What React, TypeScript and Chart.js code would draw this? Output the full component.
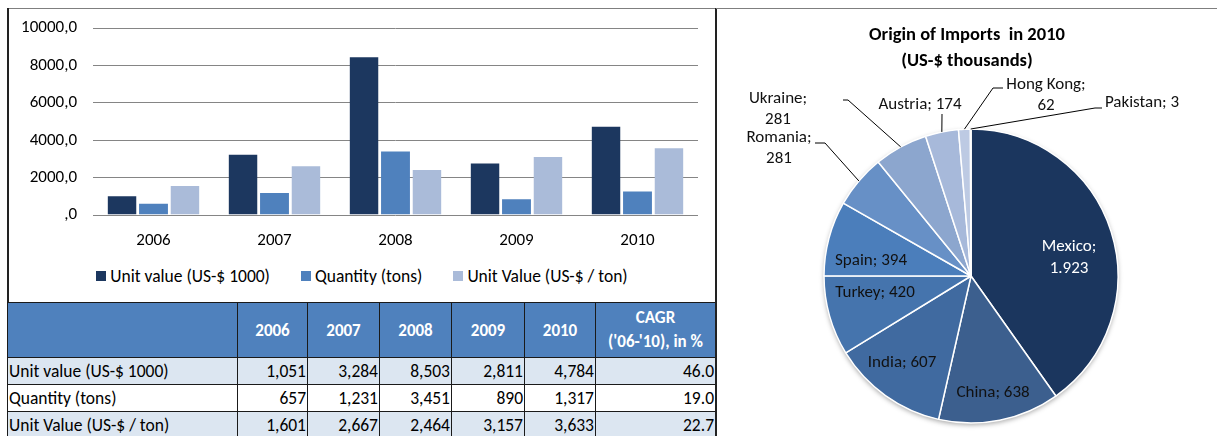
import React, { useEffect, useRef } from 'react';
import { Chart, registerables } from 'chart.js';

Chart.register(...registerables);

// ---------- Data ----------
const years = ['2006', '2007', '2008', '2009', '2010'];
const unitValue = [1051, 3284, 8503, 2811, 4784];
const quantity = [657, 1231, 3451, 890, 1317];
const unitValuePerTon = [1601, 2667, 2464, 3157, 3633];
const cagr = ['46.0', '19.0', '22.7'];
const seriesNames = ['Unit value (US-$ 1000)', 'Quantity (tons)', 'Unit Value (US-$ / ton)'];
const yTickValues = [0, 2000, 4000, 6000, 8000, 10000];
const cagrHeader = ['CAGR', "('06-'10), in %"];

const countries = ['Mexico', 'China', 'India', 'Turkey', 'Spain', 'Romania', 'Ukraine', 'Austria', 'Hong Kong', 'Pakistan'];
const imports2010 = [1923, 638, 607, 420, 394, 281, 281, 174, 62, 3];
const pieTitle = ['Origin of Imports  in 2010', '(US-$ thousands)'];

// ---------- Styles ----------
const FONT = 'Carlito, Lato, "Noto Sans", sans-serif';
const barColors = ['#1C375F', '#4F81BD', '#AABBD9'];
const pieColors = ['#1B365E', '#3C5F8E', '#406AA0', '#4574AD', '#4B7EBB', '#6790C6', '#8CA6CE', '#A7B9DA', '#BDCAE3', '#D6DEEE'];

const fmtDot = (v: number) => (v >= 1000 ? Math.floor(v / 1000) + '.' + String(v % 1000).padStart(3, '0') : String(v));
const fmtComma = (v: number) => (v >= 1000 ? Math.floor(v / 1000) + ',' + String(v % 1000).padStart(3, '0') : String(v));

// label placement for the pie (relative to pie centre, in units of radius)
const insideLabelPos: Record<number, { dx: number; dy: number; color: string; split: boolean }> = {
  0: { dx: 0.667, dy: -0.2, color: '#ffffff', split: true },
  1: { dx: 0.15, dy: 0.796, color: '#111111', split: false },
  2: { dx: -0.469, dy: 0.592, color: '#111111', split: false },
  3: { dx: -0.653, dy: 0.116, color: '#111111', split: false },
  4: { dx: -0.68, dy: -0.102, color: '#111111', split: false },
};
// outside labels: leader path points and text anchor, offsets in px from centre
const outsideLabelPos: Record<number, { path: [number, number][]; tx: number; ty: number; split: boolean }> = {
  5: { path: [[-146, -133], [-156, -133]], tx: -192, ty: -138, split: true },
  6: { path: [[-123, -176], [-128, -176]], tx: -193, ty: -177, split: true },
  7: { path: [[-29, -162]], tx: -51, ty: -171, split: false },
  8: { path: [[22, -188], [32, -188]], tx: 75, ty: -191, split: true },
  9: { path: [[124, -168], [131, -168]], tx: 171, ty: -173, split: false },
};

const pieShadowPlugin = {
  id: 'pieShadow',
  beforeDatasetsDraw(chart: any) {
    const arc = chart.getDatasetMeta(0).data[0];
    if (!arc) return;
    const { x, y, outerRadius } = arc.getProps(['x', 'y', 'outerRadius'], true);
    const ctx = chart.ctx;
    ctx.save();
    ctx.shadowColor = 'rgba(0,0,0,0.35)';
    ctx.shadowBlur = 5;
    ctx.shadowOffsetY = 2;
    ctx.fillStyle = '#ffffff';
    ctx.beginPath();
    ctx.arc(x, y, outerRadius, 0, Math.PI * 2);
    ctx.fill();
    ctx.restore();
  },
};

const pieLabelPlugin = {
  id: 'pieLabels',
  afterDatasetsDraw(chart: any) {
    const ctx = chart.ctx;
    const meta = chart.getDatasetMeta(0);
    const lineH = 21;
    ctx.save();
    ctx.font = `17px ${FONT}`;
    ctx.textAlign = 'center';
    ctx.textBaseline = 'middle';
    meta.data.forEach((arc: any, i: number) => {
      const { x, y, startAngle, endAngle, outerRadius } = arc.getProps(['x', 'y', 'startAngle', 'endAngle', 'outerRadius'], true);
      const value = imports2010[i];
      const name = countries[i];
      const inside = insideLabelPos[i];
      if (inside) {
        ctx.fillStyle = inside.color;
        const lx = x + inside.dx * outerRadius;
        const ly = y + inside.dy * outerRadius;
        if (inside.split) {
          ctx.fillText(name + ';', lx, ly);
          ctx.fillText(fmtDot(value), lx, ly + 22);
        } else {
          ctx.fillText(`${name}; ${fmtDot(value)}`, lx, ly);
        }
        return;
      }
      const out = outsideLabelPos[i];
      if (!out) return;
      const mid = (startAngle + endAngle) / 2;
      const ex = x + Math.cos(mid) * outerRadius;
      const ey = y + Math.sin(mid) * outerRadius;
      ctx.strokeStyle = '#000000';
      ctx.lineWidth = 1;
      ctx.beginPath();
      ctx.moveTo(ex, ey);
      out.path.forEach(([px, py]) => ctx.lineTo(x + px, y + py));
      ctx.stroke();
      ctx.fillStyle = '#111111';
      const tx = x + out.tx;
      const ty = y + out.ty;
      if (out.split) {
        ctx.fillText(name + ';', tx, ty);
        ctx.fillText(fmtDot(value), tx, ty + lineH);
      } else {
        ctx.fillText(`${name}; ${fmtDot(value)}`, tx, ty);
      }
    });
    ctx.restore();
  },
};

export default function App() {
  const barRef = useRef<HTMLCanvasElement>(null);
  const pieRef = useRef<HTMLCanvasElement>(null);

  useEffect(() => {
    const barChart = new Chart(barRef.current as HTMLCanvasElement, {
      type: 'bar',
      data: {
        labels: years,
        datasets: [unitValue, quantity, unitValuePerTon].map((d, i) => ({
          label: seriesNames[i],
          data: d,
          backgroundColor: barColors[i],
          borderColor: 'rgba(255,255,255,0.55)',
          borderWidth: { top: 1, left: 0, right: 0, bottom: 0 },
          categoryPercentage: 0.78,
          barPercentage: 0.92,
        })),
      },
      options: {
        animation: false,
        responsive: false,
        maintainAspectRatio: false,
        layout: { padding: { top: 12, right: 17, left: 0, bottom: 0 } },
        plugins: { legend: { display: false }, tooltip: { enabled: false } },
        scales: {
          x: {
            grid: { display: false },
            border: { display: false },
            ticks: { color: '#000', font: { family: FONT, size: 17 }, padding: 8 },
            afterFit: (s: any) => { s.height = 44; },
          },
          y: {
            min: 0,
            max: 10000,
            afterBuildTicks: (s: any) => { s.ticks = yTickValues.map((v) => ({ value: v })); },
            grid: { color: '#858585', drawTicks: false, lineWidth: 1 },
            border: { display: false },
            ticks: {
              padding: 16,
              color: '#000',
              font: { family: FONT, size: 17 },
              callback: (v: any) => (Number(v) === 0 ? ',0' : v + ',0'),
            },
            afterFit: (s: any) => { s.width = 84; },
          },
        },
      } as any,
    });

    const pieChart = new Chart(pieRef.current as HTMLCanvasElement, {
      type: 'pie',
      data: {
        labels: countries,
        datasets: [{
          data: imports2010,
          backgroundColor: pieColors,
          borderColor: '#ffffff',
          borderWidth: 1.5,
          radius: 147,
          hoverOffset: 0,
        } as any],
      },
      options: {
        animation: false,
        responsive: false,
        maintainAspectRatio: false,
        layout: { padding: { left: 20, right: 12, top: 120, bottom: 13 } },
        plugins: { legend: { display: false }, tooltip: { enabled: false } },
      } as any,
      plugins: [pieShadowPlugin, pieLabelPlugin],
    });

    return () => {
      barChart.destroy();
      pieChart.destroy();
    };
  }, []);

  const rows = [
    { name: seriesNames[0], vals: unitValue, cagr: cagr[0], bg: '#DCE6F1' },
    { name: seriesNames[1], vals: quantity, cagr: cagr[1], bg: '#FFFFFF' },
    { name: seriesNames[2], vals: unitValuePerTon, cagr: cagr[2], bg: '#DCE6F1' },
  ];
  const colW = [230, 70, 72, 72, 73, 71, 120];
  const cellBorder = '1px solid #1a1a1a';

  return (
    <div style={{ position: 'absolute', left: 0, top: 0, width: 1217, height: 436, overflow: 'hidden', background: '#fff', fontFamily: FONT }}>
      {/* bar chart box */}
      <div style={{ position: 'absolute', left: 8, top: 8, width: 708, height: 1, background: '#7f7f7f' }} />
      <div style={{ position: 'absolute', left: 7, top: 8, width: 1.5, height: 296, background: '#222' }} />
      <canvas ref={barRef} width={706} height={257} style={{ position: 'absolute', left: 9, top: 2, width: 706, height: 257 }} />
      {/* bar legend */}
      <div style={{ position: 'absolute', left: 9, top: 266, width: 706, height: 20, display: 'flex', justifyContent: 'center', alignItems: 'center', fontSize: 17.5, color: '#000', whiteSpace: 'nowrap' }}>
        {seriesNames.map((n, i) => (
          <div key={n} style={{ display: 'flex', alignItems: 'center', marginLeft: i === 0 ? 0 : 31 }}>
            <span style={{ display: 'inline-block', width: 10, height: 10, background: barColors[i], marginRight: 4 }} />
            <span>{n}</span>
          </div>
        ))}
      </div>

      {/* table */}
      <table style={{ position: 'absolute', left: 7, top: 302, width: 709, borderCollapse: 'collapse', tableLayout: 'fixed', fontSize: 17.5, color: '#000' }}>
        <colgroup>
          {colW.map((w, i) => <col key={i} style={{ width: w }} />)}
        </colgroup>
        <thead>
          <tr style={{ height: 55 }}>
            <th style={{ background: '#4F81BD', border: cellBorder }} />
            {years.map((y) => (
              <th key={y} style={{ background: '#4F81BD', color: '#fff', border: cellBorder, fontWeight: 'bold', fontSize: 17, textAlign: 'center', padding: 0 }}>{y}</th>
            ))}
            <th style={{ background: '#4F81BD', color: '#fff', border: cellBorder, fontWeight: 'bold', fontSize: 17, textAlign: 'center', padding: 0, lineHeight: '24px', whiteSpace: 'nowrap' }}>
              {cagrHeader[0]}<br />{cagrHeader[1]}
            </th>
          </tr>
        </thead>
        <tbody>
          {rows.map((r) => (
            <tr key={r.name} style={{ height: 27, background: r.bg }}>
              <td style={{ border: cellBorder, padding: '0 0 0 1px', textAlign: 'left', whiteSpace: 'nowrap', lineHeight: '25px' }}>{r.name}</td>
              {r.vals.map((v, j) => (
                <td key={j} style={{ border: cellBorder, padding: '0 1px 0 0', textAlign: 'right', lineHeight: '25px' }}>{fmtComma(v)}</td>
              ))}
              <td style={{ border: cellBorder, padding: '0 1px 0 0', textAlign: 'right', lineHeight: '25px' }}>{r.cagr}</td>
            </tr>
          ))}
        </tbody>
      </table>

      {/* divider */}
      <div style={{ position: 'absolute', left: 715, top: 8, width: 1.5, height: 428, background: '#222' }} />
      <div style={{ position: 'absolute', left: 716, top: 8, width: 501, height: 1, background: '#7f7f7f' }} />

      {/* pie */}
      <canvas ref={pieRef} width={500} height={427} style={{ position: 'absolute', left: 717, top: 9, width: 500, height: 427 }} />
      <div style={{ position: 'absolute', left: 717, top: 21, width: 500, textAlign: 'center', fontWeight: 'bold', fontSize: 18.5, lineHeight: '26px', color: '#000', whiteSpace: 'pre' }}>
        {pieTitle[0]}{'\n'}{pieTitle[1]}
      </div>
    </div>
  );
}
